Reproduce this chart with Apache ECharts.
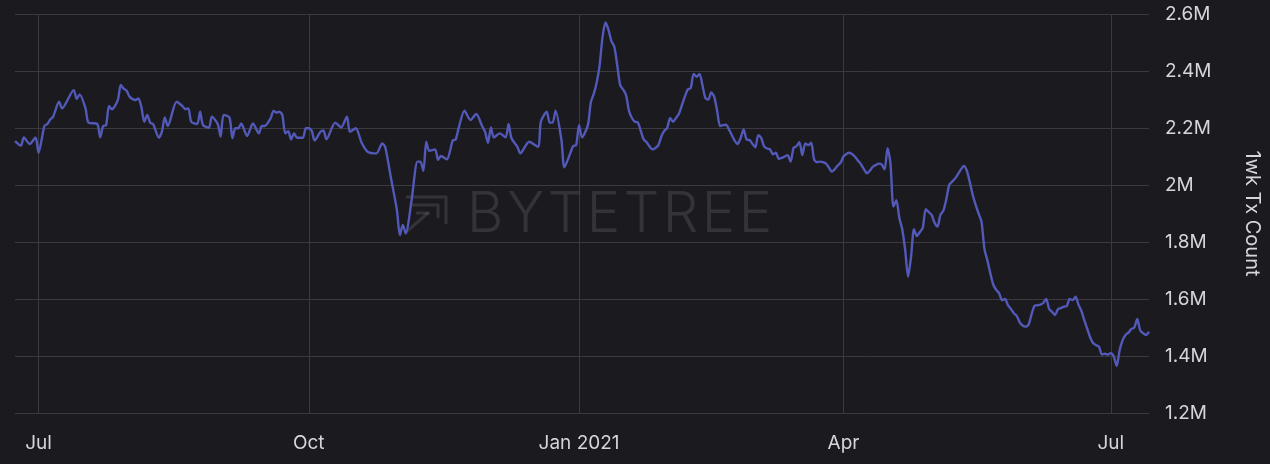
<!DOCTYPE html>
<html>
<head>
<meta charset="utf-8">
<title>1wk Tx Count</title>
<script src="https://cdn.jsdelivr.net/npm/echarts@6/dist/echarts.min.js"></script>
<style>
  html, body { margin: 0; padding: 0; background: #1b1a1f; }
  #chart { width: 1270px; height: 464px; }
</style>
</head>
<body>
<div id="chart"></div>
<script>
// Rolling one-week transaction count (millions), sampled dates
const dates = [
  '2020-06-23','2020-06-25','2020-06-26','2020-06-28','2020-06-30',
  '2020-07-01','2020-07-03','2020-07-04','2020-07-05','2020-07-06','2020-07-08','2020-07-09',
  '2020-07-13','2020-07-14','2020-07-15','2020-07-17','2020-07-18','2020-07-21','2020-07-22',
  '2020-07-23','2020-07-24','2020-07-25','2020-07-26','2020-07-28','2020-07-29','2020-07-30','2020-07-31',
  '2020-08-01','2020-08-03','2020-08-04','2020-08-05','2020-08-06','2020-08-07','2020-08-08','2020-08-09',
  '2020-08-11','2020-08-12','2020-08-13','2020-08-14','2020-08-17','2020-08-19','2020-08-20','2020-08-21',
  '2020-08-22','2020-08-24','2020-08-25','2020-08-26','2020-08-28','2020-08-29','2020-08-31',
  '2020-09-01','2020-09-02','2020-09-04','2020-09-05','2020-09-06','2020-09-07','2020-09-08','2020-09-10',
  '2020-09-12','2020-09-14','2020-09-15','2020-09-16','2020-09-18','2020-09-19','2020-09-20','2020-09-21',
  '2020-09-22','2020-09-23','2020-09-24','2020-09-25','2020-09-26','2020-09-27','2020-09-29','2020-09-30',
  '2020-10-01','2020-10-02','2020-10-03','2020-10-05','2020-10-06','2020-10-07','2020-10-10','2020-10-12',
  '2020-10-14','2020-10-15','2020-10-17','2020-10-19','2020-10-21','2020-10-24','2020-10-26','2020-10-27',
  '2020-10-29','2020-10-31',
  '2020-11-01','2020-11-02','2020-11-03','2020-11-05','2020-11-07','2020-11-08','2020-11-09','2020-11-10',
  '2020-11-11','2020-11-13','2020-11-14','2020-11-15','2020-11-17','2020-11-19','2020-11-20','2020-11-21',
  '2020-11-23','2020-11-25','2020-11-27','2020-11-29','2020-11-30',
  '2020-12-01','2020-12-02','2020-12-03','2020-12-05','2020-12-07','2020-12-08','2020-12-09','2020-12-11',
  '2020-12-12','2020-12-15','2020-12-18','2020-12-19','2020-12-21','2020-12-22','2020-12-23','2020-12-24',
  '2020-12-26','2020-12-27','2020-12-29','2020-12-30','2020-12-31',
  '2021-01-01','2021-01-02','2021-01-04','2021-01-05','2021-01-06','2021-01-07','2021-01-08','2021-01-09',
  '2021-01-10','2021-01-11','2021-01-12','2021-01-13','2021-01-14','2021-01-15','2021-01-16','2021-01-17',
  '2021-01-18','2021-01-19','2021-01-20','2021-01-21','2021-01-22','2021-01-23','2021-01-24','2021-01-25',
  '2021-01-26','2021-01-27','2021-01-28','2021-01-29','2021-01-30','2021-01-31',
  '2021-02-01','2021-02-02','2021-02-03','2021-02-04','2021-02-05','2021-02-06','2021-02-07','2021-02-08',
  '2021-02-09','2021-02-10','2021-02-11','2021-02-12','2021-02-13','2021-02-14','2021-02-15','2021-02-16',
  '2021-02-17','2021-02-18','2021-02-19','2021-02-20','2021-02-21','2021-02-22','2021-02-23','2021-02-24',
  '2021-02-25','2021-02-26','2021-02-27','2021-02-28',
  '2021-03-01','2021-03-02','2021-03-03','2021-03-04','2021-03-05','2021-03-06','2021-03-07','2021-03-08',
  '2021-03-09','2021-03-10','2021-03-11','2021-03-12','2021-03-13','2021-03-14','2021-03-15','2021-03-16',
  '2021-03-17','2021-03-18','2021-03-19','2021-03-20','2021-03-21','2021-03-22','2021-03-23','2021-03-24',
  '2021-03-25','2021-03-26','2021-03-27','2021-03-28','2021-03-29','2021-03-30','2021-03-31',
  '2021-04-01','2021-04-02','2021-04-03','2021-04-04','2021-04-05','2021-04-06','2021-04-07','2021-04-08',
  '2021-04-09','2021-04-10','2021-04-11','2021-04-12','2021-04-13','2021-04-14','2021-04-15','2021-04-16',
  '2021-04-17','2021-04-18','2021-04-19','2021-04-20','2021-04-21','2021-04-22','2021-04-23','2021-04-24',
  '2021-04-25','2021-04-26','2021-04-27','2021-04-28','2021-04-29','2021-04-30',
  '2021-05-01','2021-05-02','2021-05-03','2021-05-04','2021-05-05','2021-05-06','2021-05-07','2021-05-08',
  '2021-05-09','2021-05-10','2021-05-11','2021-05-12','2021-05-13','2021-05-14','2021-05-15','2021-05-16',
  '2021-05-17','2021-05-18','2021-05-19','2021-05-20','2021-05-21','2021-05-22','2021-05-23','2021-05-24',
  '2021-05-25','2021-05-26','2021-05-27','2021-05-28','2021-05-29','2021-05-30','2021-05-31',
  '2021-06-01','2021-06-02','2021-06-03','2021-06-04','2021-06-05','2021-06-06','2021-06-07','2021-06-08',
  '2021-06-09','2021-06-10','2021-06-11','2021-06-12','2021-06-13','2021-06-14','2021-06-15','2021-06-16',
  '2021-06-17','2021-06-18','2021-06-19','2021-06-20','2021-06-21','2021-06-22','2021-06-23','2021-06-24',
  '2021-06-25','2021-06-26','2021-06-27','2021-06-28','2021-06-29','2021-06-30',
  '2021-07-01','2021-07-02','2021-07-03','2021-07-04','2021-07-05','2021-07-06','2021-07-07','2021-07-08',
  '2021-07-09','2021-07-10','2021-07-11','2021-07-12','2021-07-13','2021-07-14'
];

const txCount = [
  2.154,2.138,2.167,2.144,2.167,
  2.113,2.207,2.214,2.230,2.240,2.292,2.269,
  2.333,2.302,2.318,2.269,2.219,2.214,2.167,
  2.207,2.210,2.277,2.266,2.298,2.351,2.338,2.331,
  2.310,2.298,2.304,2.275,2.222,2.246,2.219,2.214,
  2.166,2.187,2.237,2.207,2.292,2.277,2.266,2.269,
  2.222,2.214,2.257,2.210,2.201,2.240,2.214,
  2.170,2.246,2.237,2.164,2.199,2.199,2.216,2.172,
  2.216,2.181,2.207,2.207,2.234,2.260,2.254,2.257,
  2.245,2.181,2.189,2.160,2.181,2.166,2.166,2.199,
  2.199,2.190,2.156,2.187,2.191,2.160,2.219,2.202,
  2.240,2.187,2.199,2.148,2.117,2.111,2.146,2.134,
  2.023,1.912,
  1.824,1.860,1.830,1.947,2.082,2.082,2.050,2.152,
  2.120,2.125,2.088,2.102,2.090,2.156,2.160,2.199,
  2.261,2.228,2.249,2.207,2.187,
  2.148,2.202,2.167,2.181,2.167,2.214,2.164,2.134,
  2.111,2.152,2.134,2.222,2.257,2.219,2.219,2.261,
  2.158,2.062,2.111,2.137,2.140,
  2.210,2.167,2.210,2.290,2.320,2.360,2.420,2.520,
  2.570,2.545,2.505,2.485,2.420,2.350,2.335,2.315,
  2.260,2.235,2.222,2.220,2.190,2.160,2.150,2.135,
  2.125,2.130,2.140,2.170,2.190,2.200,
  2.235,2.222,2.235,2.250,2.280,2.310,2.335,2.340,
  2.390,2.380,2.390,2.350,2.305,2.300,2.325,2.310,
  2.260,2.207,2.210,2.212,2.195,2.175,2.155,2.144,
  2.165,2.195,2.160,2.158,
  2.145,2.132,2.175,2.165,2.135,2.128,2.125,2.108,
  2.113,2.092,2.095,2.100,2.105,2.082,2.130,2.136,
  2.150,2.105,2.146,2.140,2.148,2.090,2.080,2.082,
  2.080,2.076,2.062,2.047,2.055,2.068,2.078,
  2.100,2.109,2.113,2.108,2.098,2.085,2.072,2.055,
  2.041,2.050,2.064,2.070,2.075,2.072,2.055,2.129,
  2.076,1.924,1.947,1.885,1.845,1.772,1.678,1.748,
  1.845,1.821,1.835,1.850,1.915,1.905,
  1.895,1.868,1.854,1.895,1.910,1.950,2.000,2.012,
  2.023,2.038,2.055,2.067,2.050,2.010,1.965,1.930,
  1.900,1.870,1.775,1.735,1.690,1.650,1.632,1.620,
  1.596,1.600,1.578,1.565,1.550,1.540,1.518,
  1.507,1.503,1.510,1.545,1.576,1.578,1.580,1.586,
  1.600,1.565,1.555,1.544,1.564,1.568,1.573,1.575,
  1.600,1.596,1.608,1.580,1.558,1.525,1.495,1.465,
  1.445,1.438,1.432,1.405,1.408,1.405,
  1.410,1.398,1.365,1.420,1.455,1.474,1.482,1.495,
  1.500,1.530,1.490,1.480,1.474,1.485
];

// Quarter marks on the date axis and their labels
const quarterDates = ['2020-07-01', '2020-10-01', '2021-01-01', '2021-04-01', '2021-07-01'];
const quarterLabels = ['Jul', 'Oct', 'Jan 2021', 'Apr', 'Jul'];

// Value axis range, in millions
const yMin = 1.2;
const yMax = 2.6;
const yStep = 0.2;

const axisRange = ['2020-06-23', '2021-07-14'];

function toTime(s) {
  const p = s.split('-').map(Number);
  return Date.UTC(p[0], p[1] - 1, p[2]);
}

const quarterTimes = quarterDates.map(toTime);
const seriesData = dates.map((d, i) => [toTime(d), txCount[i]]);

const textColor = '#d5d5da';
const gridColor = '#3b3a40';
const lineColor = '#5259b8';
const markColor = 'rgba(255,255,255,0.11)';
const uiFont = 'Inter, "Noto Sans", "Liberation Sans", sans-serif';

// Brand mark: spaced letters laid out with measured glyph widths
function brandLetters(word, left, totalWidth, centerY, size) {
  const ctx = document.createElement('canvas').getContext('2d');
  ctx.font = '300 ' + size + 'px Inter';
  const widths = word.split('').map(ch => ctx.measureText(ch).width);
  const sum = widths.reduce((a, b) => a + b, 0);
  const gap = (totalWidth - sum) / (word.length - 1);
  let x = left;
  return word.split('').map((ch, i) => {
    const el = {
      type: 'text',
      x: x,
      y: centerY,
      silent: true,
      style: {
        text: ch,
        fill: markColor,
        font: '300 ' + size + 'px Inter',
        textAlign: 'left',
        textVerticalAlign: 'middle'
      }
    };
    x += widths[i] + gap;
    return el;
  });
}

const logoStroke = { stroke: markColor, lineWidth: 3, fill: null };
const brandGraphic = [
  { type: 'polyline', silent: true, shape: { points: [[406, 197], [446, 197], [446, 224]] }, style: logoStroke },
  { type: 'polyline', silent: true, shape: { points: [[411, 205], [438, 205], [438, 218]] }, style: logoStroke },
  { type: 'polyline', silent: true, shape: { points: [[416, 213], [430, 213]] }, style: logoStroke },
  { type: 'polyline', silent: true, shape: { points: [[405, 233], [428, 213]] }, style: logoStroke }
].concat(brandLetters('BYTETREE', 467, 305, 215, 56));

const chart = echarts.init(document.getElementById('chart'), null, { renderer: 'canvas' });

chart.setOption({
  backgroundColor: '#1b1a1f',
  animation: false,
  textStyle: { fontFamily: uiFont },
  graphic: brandGraphic,
  grid: { left: 15, right: 119, top: 14, bottom: 51, containLabel: false },
  xAxis: {
    type: 'value',
    min: toTime(axisRange[0]),
    max: toTime(axisRange[1]),
    axisLine: { show: false },
    axisTick: { show: false, customValues: quarterTimes },
    splitLine: { show: true, lineStyle: { color: gridColor, width: 1 } },
    axisLabel: {
      customValues: quarterTimes,
      color: textColor,
      fontSize: 19,
      fontFamily: uiFont,
      margin: 21,
      showMinLabel: true,
      showMaxLabel: true,
      formatter: function (v) {
        const i = quarterTimes.indexOf(v);
        return i >= 0 ? quarterLabels[i] : '';
      }
    }
  },
  yAxis: {
    type: 'value',
    position: 'right',
    min: yMin,
    max: yMax,
    interval: yStep,
    name: '1wk Tx Count',
    nameLocation: 'middle',
    nameRotate: -90,
    nameGap: 93,
    nameTextStyle: { color: textColor, fontSize: 20, fontFamily: uiFont },
    axisLine: { show: false },
    axisTick: { show: false },
    splitLine: { show: true, lineStyle: { color: gridColor, width: 1 } },
    axisLabel: {
      color: textColor,
      fontSize: 19,
      fontFamily: uiFont,
      margin: 16,
      formatter: function (v) {
        return parseFloat(v.toFixed(1)) + 'M';
      }
    }
  },
  series: [{
    type: 'line',
    name: '1wk Tx Count',
    data: seriesData,
    showSymbol: false,
    smooth: 0.25,
    lineStyle: { color: lineColor, width: 2.4 },
    itemStyle: { color: lineColor },
    z: 3
  }]
});
</script>
</body>
</html>
